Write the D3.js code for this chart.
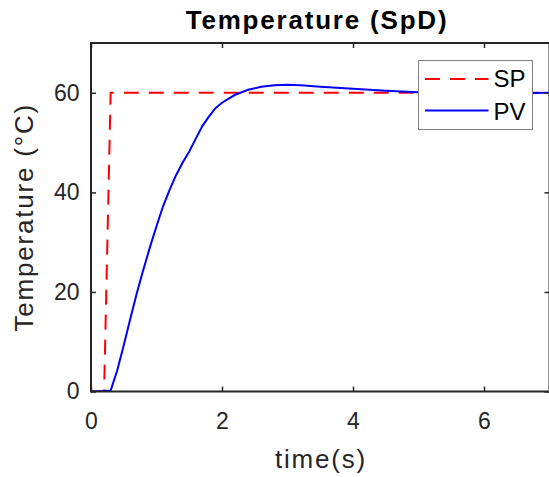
<!DOCTYPE html>
<html>
<head>
<meta charset="utf-8">
<script src="https://cdn.jsdelivr.net/npm/d3@7"></script>
<style>
  body { margin: 0; background: #fff; }
  svg { display: block; font-family: "Liberation Sans", Arial, sans-serif; }
</style>
</head>
<body>
<svg width="549" height="477"></svg>
<script>
// setpoint
const spTime = [0, 0.2, 0.3, 7];
const spValue = [0, 0, 60, 60];

// process value
const pvTime = [0, 0.3, 0.4, 0.5, 0.6, 0.7, 0.8, 0.9, 1.0, 1.1, 1.2, 1.3, 1.4, 1.5, 1.6, 1.7, 1.8, 1.9, 2.0,
  2.2, 2.4, 2.6, 2.8, 3.0, 3.2, 3.5, 4.0, 4.5, 5.0, 5.5, 6.0, 6.5, 7.0];
const pvValue = [0, 0.2, 4.2, 9.3, 14.6, 19.8, 24.5, 29, 33.2, 37.2, 40.5, 43.5, 46.0, 48.2, 50.8, 53.3, 55.2, 56.9, 58.0,
  59.6, 60.6, 61.2, 61.5, 61.6, 61.5, 61.2, 60.8, 60.4, 60.1, 59.9, 59.9, 59.9, 60];

const xTicks = [0, 2, 4, 6];
const yTicks = [0, 20, 40, 60];

const svg = d3.select("svg");
const axisColor = "#262626";
const spDash = "15,10";

const plotLeft = 91, plotRight = 549.5, plotTop = 43, plotBottom = 391.5;

const xScale = d3.scaleLinear().domain([0, 7]).range([plotLeft, plotRight]);
const yScale = d3.scaleLinear().domain([0, 70]).range([plotBottom, plotTop]);

svg.append("defs").append("clipPath").attr("id", "plotArea")
  .append("rect")
  .attr("x", plotLeft).attr("y", plotTop)
  .attr("width", plotRight - plotLeft).attr("height", plotBottom - plotTop);

/*lines*/
const line = d3.line()
  .x(d => xScale(d[0]))
  .y(d => yScale(d[1]));

const plot = svg.append("g").attr("clip-path", "url(#plotArea)");

plot.append("path")
  .attr("d", line(spTime.map((t, i) => [t, spValue[i]])))
  .attr("fill", "none")
  .attr("stroke", "#ff0000")
  .attr("stroke-width", 2)
  .attr("stroke-dasharray", spDash);

plot.append("path")
  .attr("d", line(pvTime.map((t, i) => [t, pvValue[i]])))
  .attr("fill", "none")
  .attr("stroke", "#0000ff")
  .attr("stroke-width", 2);

/*axes, matlab style ticks pointing inward*/
const tickLen = 5;
function styleAxis(g) {
  g.select(".domain").remove();
  g.selectAll("line").attr("stroke", axisColor).attr("stroke-width", 1.5);
  g.selectAll("text").attr("fill", axisColor).style("font-size", "23px");
}

svg.append("g")
  .attr("transform", `translate(0, ${plotBottom})`)
  .call(d3.axisBottom(xScale).tickValues(xTicks).tickFormat(d3.format("d"))
    .tickSizeInner(-tickLen).tickSizeOuter(0).tickPadding(21))
  .call(styleAxis);

svg.append("g")
  .attr("transform", `translate(0, ${plotTop})`)
  .call(d3.axisTop(xScale).tickValues(xTicks).tickSizeInner(-tickLen).tickSizeOuter(0).tickFormat(""))
  .call(styleAxis);

svg.append("g")
  .attr("transform", `translate(${plotLeft}, 0)`)
  .call(d3.axisLeft(yScale).tickValues(yTicks).tickFormat(d3.format("d"))
    .tickSizeInner(-tickLen).tickSizeOuter(0).tickPadding(11.5))
  .call(styleAxis);

svg.append("g")
  .attr("transform", `translate(${plotRight}, 0)`)
  .call(d3.axisRight(yScale).tickValues(yTicks).tickSizeInner(-tickLen).tickSizeOuter(0).tickFormat(""))
  .call(styleAxis);

// box
svg.append("rect")
  .attr("x", plotLeft).attr("y", plotTop)
  .attr("width", plotRight - plotLeft).attr("height", plotBottom - plotTop)
  .attr("fill", "none")
  .attr("stroke", axisColor)
  .attr("stroke-width", 2);

/*labels*/
svg.append("text")
  .attr("x", 317).attr("y", 28.5)
  .attr("text-anchor", "middle")
  .style("font-size", "26px").style("font-weight", "bold")
  .style("letter-spacing", "1.8px")
  .attr("fill", "#000")
  .text("Temperature (SpD)");

svg.append("text")
  .attr("x", 321).attr("y", 468)
  .attr("text-anchor", "middle")
  .style("font-size", "26px")
  .style("letter-spacing", "1.8px")
  .attr("fill", axisColor)
  .text("time(s)");

svg.append("text")
  .attr("transform", `translate(33, ${(plotTop + plotBottom) / 2}) rotate(-90)`)
  .attr("text-anchor", "middle")
  .style("font-size", "26px")
  .style("letter-spacing", "1.8px")
  .attr("fill", axisColor)
  .text("Temperature (°C)");

/*legend*/
const legend = svg.append("g").attr("transform", "translate(418.5, 60.5)");
legend.append("rect")
  .attr("width", 114).attr("height", 69)
  .attr("fill", "#fff")
  .attr("stroke", "#808080")
  .attr("stroke-width", 1);

const legendItems = [
  { name: "SP", color: "#ff0000", dash: spDash, y: 18.5, base: 26 },
  { name: "PV", color: "#0000ff", dash: null, y: 50, base: 59 }
];
legendItems.forEach(item => {
  legend.append("line")
    .attr("x1", 6.5).attr("x2", 70)
    .attr("y1", item.y).attr("y2", item.y)
    .attr("stroke", item.color)
    .attr("stroke-width", 2)
    .attr("stroke-dasharray", item.dash);
  legend.append("text")
    .attr("x", 75).attr("y", item.base)
    .style("font-size", "24px")
    .attr("fill", "#000")
    .text(item.name);
});
</script>
</body>
</html>
